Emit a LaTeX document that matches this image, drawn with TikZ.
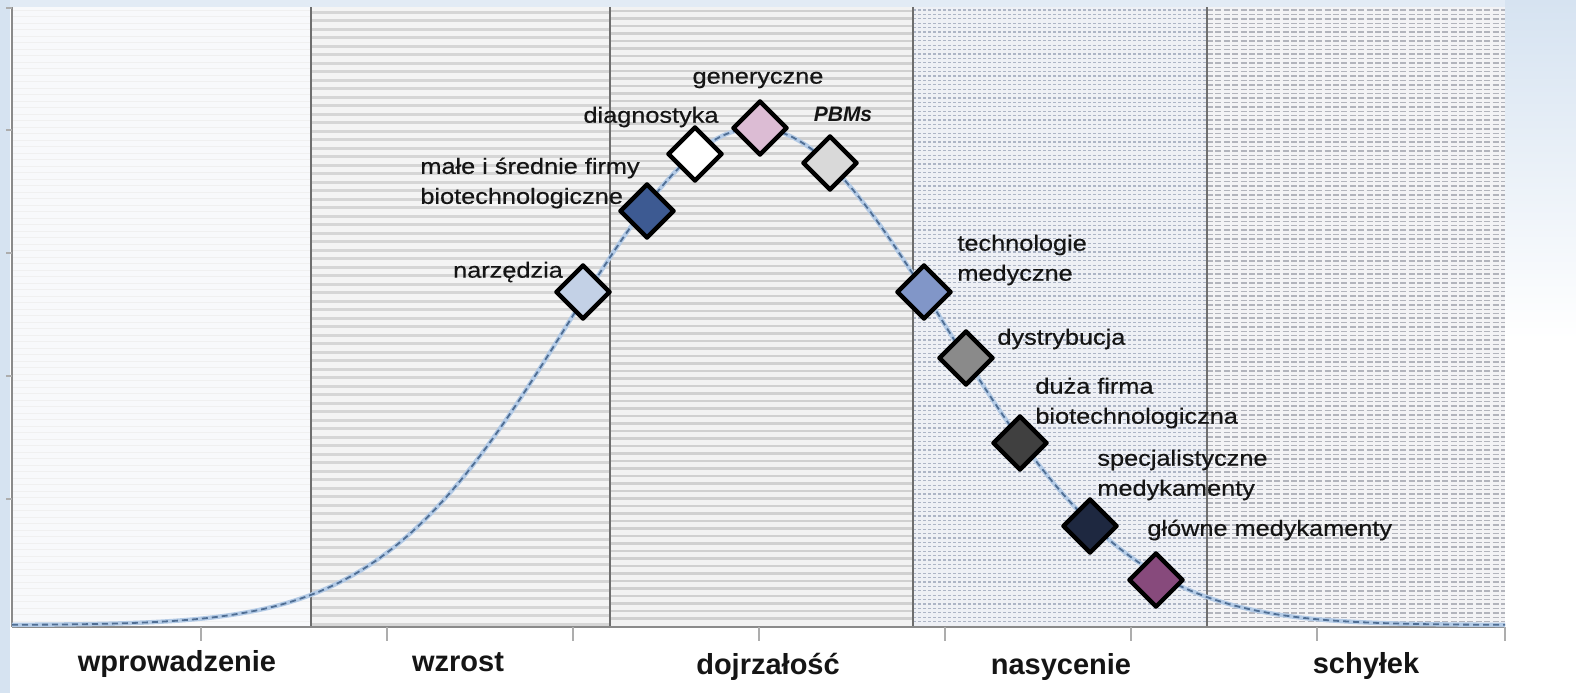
\documentclass[tikz,border=0pt]{standalone}
\usepackage{fontspec}
\setmainfont{Liberation Sans}
\newfontfamily\labfont[FakeStretch=1.15,FakeBold=0.5]{Liberation Sans}
\usetikzlibrary{shapes.geometric}
\definecolor{bgblue}{HTML}{D6E3F1}
\definecolor{bandA}{HTML}{F8F9FB}
\definecolor{bandB}{HTML}{F4F4F4}
\definecolor{stripeB}{HTML}{D6D6D6}
\definecolor{bandC}{HTML}{F2F2F2}
\definecolor{stripeC}{HTML}{D0D0D0}
\definecolor{bandD}{HTML}{EEF0F5}
\definecolor{stripeD}{HTML}{ADB5C6}
\definecolor{bandE}{HTML}{F3F3F5}
\definecolor{stripeE}{HTML}{B2B4BC}
\definecolor{divc}{HTML}{6E6E6E}
\definecolor{axisc}{HTML}{8A8A8A}
\definecolor{halo}{HTML}{B4CBE6}
\definecolor{curvec}{HTML}{4F6E94}
\definecolor{cnarz}{HTML}{C3D1E6}
\definecolor{cmale}{HTML}{3D5A92}
\definecolor{cdiag}{HTML}{FFFFFF}
\definecolor{cgen}{HTML}{DCBCD4}
\definecolor{cpbm}{HTML}{D9D9D9}
\definecolor{ctech}{HTML}{8196C8}
\definecolor{cdyst}{HTML}{8A8A8A}
\definecolor{cduza}{HTML}{404040}
\definecolor{cspec}{HTML}{1E2840}
\definecolor{cglow}{HTML}{874A7C}
\definecolor{txt}{HTML}{151515}
\tikzset{
  dia/.style={diamond, draw=black, line width=2.2pt, line join=round, minimum width=27.5pt, minimum height=27.5pt, inner sep=0pt, aspect=1},
  lab/.style={font=\labfont\fontsize{11}{15}\selectfont, text=txt, inner sep=0pt, align=left},
  phase/.style={font=\bfseries\fontsize{14.5}{16}\selectfont, text=txt, inner sep=0pt, anchor=base},
  divider/.style={draw=divc, line width=0.75pt},
  axisline/.style={draw=axisc, line width=0.75pt},
  tick/.style={draw=axisc!70, line width=0.6pt}
}
\begin{document}
\begin{tikzpicture}[x=0.5pt,y=-0.5pt]
\useasboundingbox (0,0) rectangle (1576,693);
\fill[white] (0,0) rectangle (1576,693);
\fill[bgblue!70] (0,0) rectangle (1576,7);
\shade[top color=bgblue, bottom color=white] (1505,0) rectangle (1576,340);
\fill[bgblue] (0,0) rectangle (10,693);
% bands
\fill[bandA] (12,7) rectangle (311,627);
\foreach \y in {10,16.5,...,625} \draw[gray!12, line width=0.5pt] (12,\y) -- (311,\y);
\fill[bandB] (311,7) rectangle (610,627);
\foreach \y in {12,20.5,...,625} \draw[stripeB, line width=1.5pt] (311,\y) -- (610,\y);
\fill[bandC] (610,7) rectangle (913,627);
\foreach \y in {11,18.5,...,625} \draw[stripeC, line width=1.4pt] (610,\y) -- (913,\y);
\fill[bandD] (913,7) rectangle (1207,627);
\foreach \y in {10,14.4,...,625} \draw[stripeD, line width=0.6pt, dash pattern=on 1.5pt off 1pt] (913,\y) -- (1207,\y);
\fill[bandE] (1207,7) rectangle (1505,627);
\foreach \y in {10,14.4,...,625} \draw[stripeE, line width=0.7pt, dash pattern=on 3pt off 1.2pt] (1207,\y) -- (1505,\y);
% dividers and axes
\coordinate (tl) at (12,7);
\coordinate (bl) at (12,627);
\coordinate (br) at (1505,627);
\foreach \xx/\nm in {311/dA,610/dB,913/dC,1207/dD}{
  \coordinate (\nm t) at (\xx,7);
  \coordinate (\nm b) at (\xx,627);
  \draw[divider] (\nm t) -- (\nm b);
}
\draw[axisline] (tl) -- (bl);
\draw[axisline] (bl) -- (br);
\foreach \xx in {201,387,573,759,945,1131,1317,1505}{
  \draw[tick] (\xx,627) -- (\xx,641);
}
\foreach \yy in {8,130,253,376,499}{
  \draw[tick] (6,\yy) -- (12,\yy);
}
% curve
\draw[halo, line width=2.2pt] plot[domain=12:1505, samples=160, smooth] (\x,{625-497*exp(-0.5*((\x-756)/188)*((\x-756)/188))});
\draw[curvec, line width=0.9pt, dash pattern=on 3pt off 2pt] plot[domain=12:1505, samples=160, smooth] (\x,{625-497*exp(-0.5*((\x-756)/188)*((\x-756)/188))});
% diamonds
\node[dia, fill=cnarz] (narz) at (583,292) {};
\node[dia, fill=cmale] (male) at (647,211) {};
\node[dia, fill=cdiag] (diag) at (695,154) {};
\node[dia, fill=cgen] (gen) at (760,128) {};
\node[dia, fill=cpbm] (pbm) at (830,163) {};
\node[dia, fill=ctech] (tech) at (924,292) {};
\node[dia, fill=cdyst] (dyst) at (966,358) {};
\node[dia, fill=cduza] (duza) at (1020,443) {};
\node[dia, fill=cspec] (spec) at (1090,526) {};
\node[dia, fill=cglow] (glow) at (1156,580) {};
% labels
\node[lab] (lnarz) at (508,272) {narzędzia};
\node[lab, anchor=west] (lmale) at (420,183) {małe i średnie firmy\\biotechnologiczne};
\node[lab] (ldiag) at (651,117) {diagnostyka};
\node[lab] (lgen) at (758,80) {generyczne};
\node[font=\bfseries\itshape\fontsize{10.5}{12}\selectfont, text=txt, inner sep=0pt] (lpbm) at (843,114) {PBMs};
\node[lab, anchor=west] (ltech) at (957,260) {technologie\\medyczne};
\node[lab, anchor=west] (ldyst) at (997,339) {dystrybucja};
\node[lab, anchor=west] (lduza) at (1035,403) {duża firma\\biotechnologiczna};
\node[lab, anchor=west] (lspec) at (1097,475) {specjalistyczne\\medykamenty};
\node[lab, anchor=west] (lglow) at (1147,530) {główne medykamenty};
% phases
\node[phase] (p1) at (177,671) {wprowadzenie};
\node[phase] (p2) at (458,671) {wzrost};
\node[phase] (p3) at (768,674) {dojrzałość};
\node[phase] (p4) at (1061,674) {nasycenie};
\node[phase] (p5) at (1366,673) {schyłek};
\end{tikzpicture}
\end{document}
